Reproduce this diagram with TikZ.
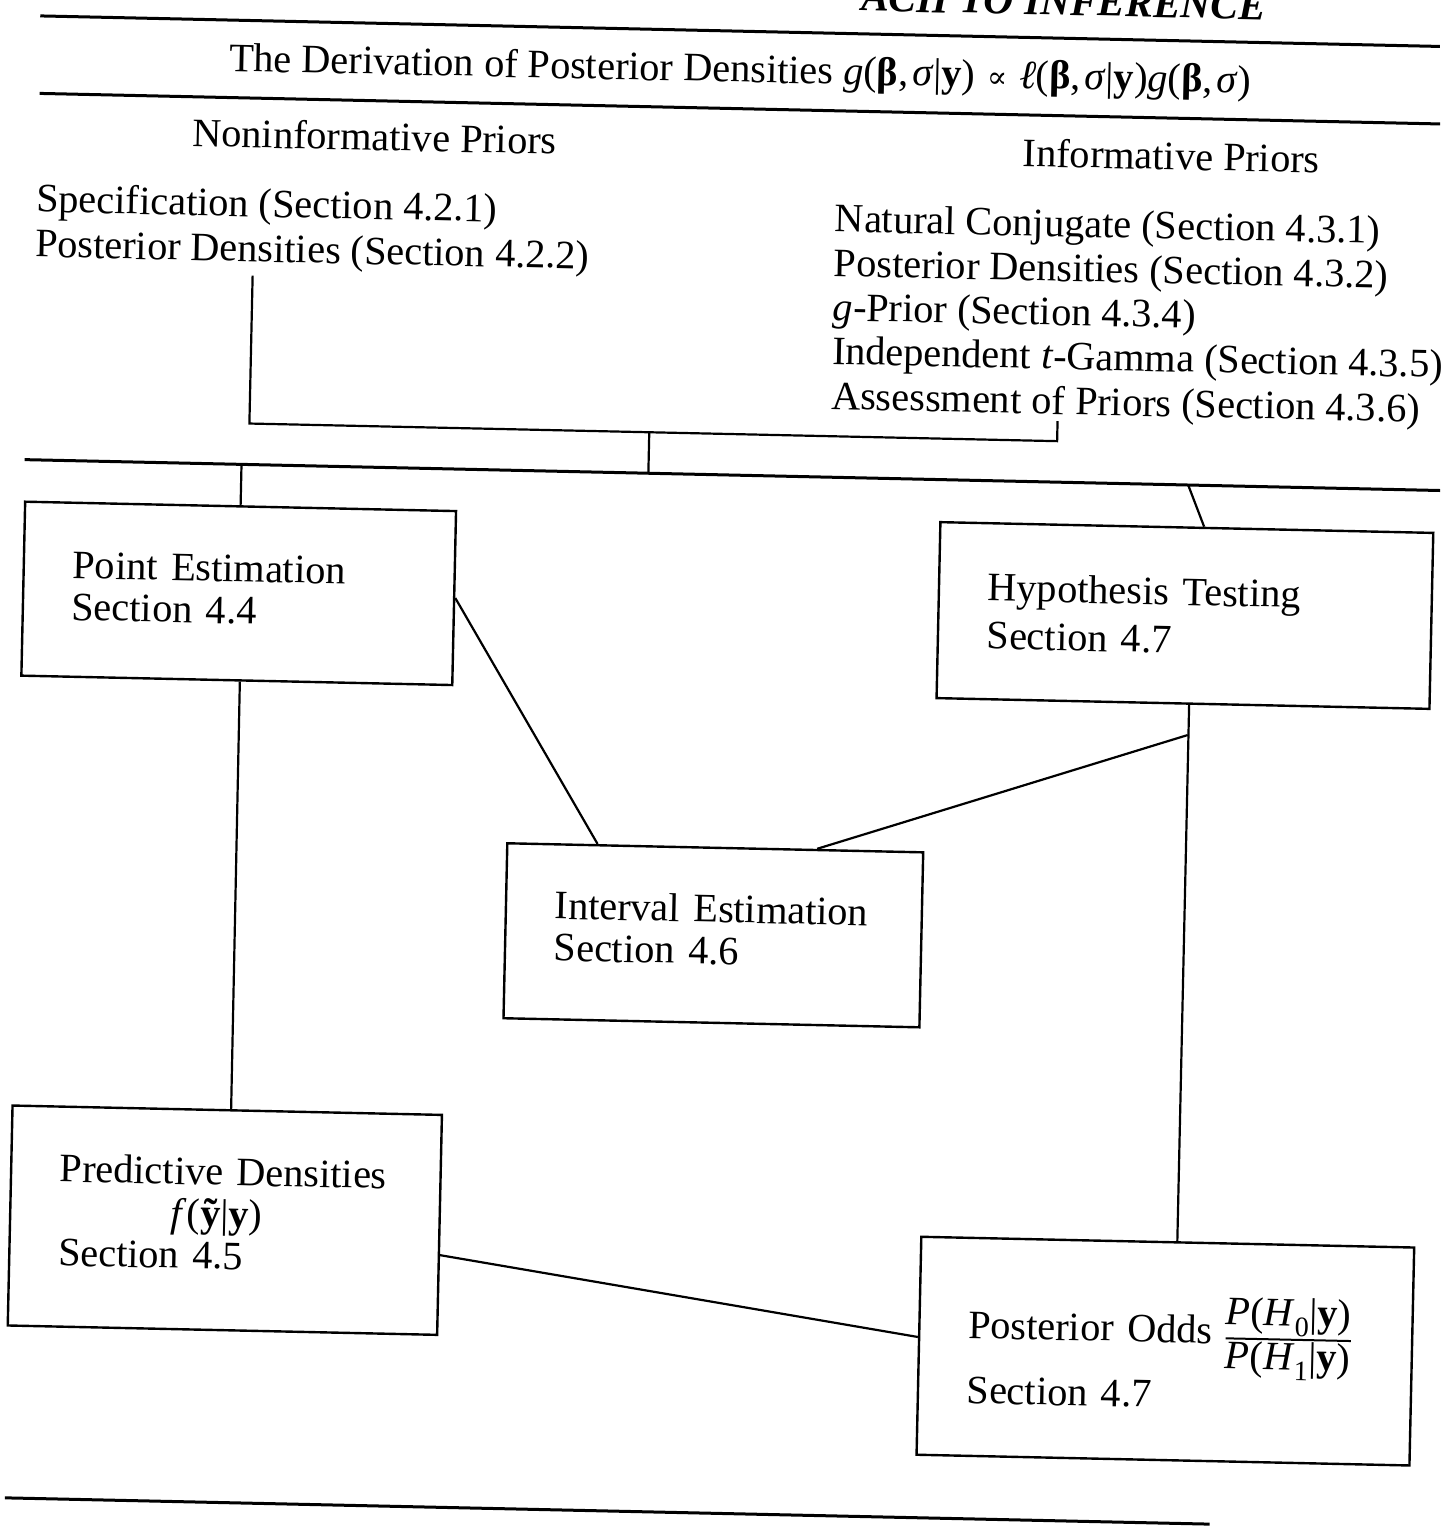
\documentclass[tikz,border=0pt]{standalone}
\usepackage{fontspec}
\setmainfont{Liberation Serif}
\newfontfamily\symserif{DejaVu Serif}
% a stacked fraction built from text, bar at mid-height of the line
\newcommand{\textfrac}[2]{%
  \raisebox{-25pt}{\setlength{\arrayrulewidth}{2pt}%
  \begin{tabular}[b]{@{}c@{}}#1\\\hline #2\end{tabular}}}
% comma with a little extra room, as in set formulas
\newcommand{\fcomma}{,\hspace{4pt}}
\begin{document}
\begin{tikzpicture}[x=1pt,y=-1pt,
  every node/.style={font=\fontsize{40.3}{42}\selectfont, inner sep=0pt},
  rule/.style={line width=3pt},
  link/.style={line width=2.2pt},
  card/.style={draw, line width=2.4pt, rectangle, align=left,
               inner xsep=49pt, inner ysep=0pt},
]
\useasboundingbox (0,0) rectangle (1450,1537);
\begin{scope}[rotate around={-1.25:(725,768)}, transform shape]

% running head, cut by the top edge of the page
\node[anchor=base east, font=\fontsize{41.5}{42}\selectfont\bfseries\itshape]
  (head) at (1250,8) {ACH TO INFERENCE};

% horizontal rules
\coordinate (r1a) at (24,31);   \coordinate (r1b) at (1424,31);
\coordinate (r3a) at (25,108.5); \coordinate (r3b) at (1426,108.5);
\coordinate (r4a) at (18,475);  \coordinate (r4b) at (1434,475);
\coordinate (r5a) at (21,1513.5); \coordinate (r5b) at (1226,1513.5);
\draw[rule] (r1a) -- (r1b);
\draw[rule] (r3a) -- (r3b);
\draw[rule] (r4a) -- (r4b);
\draw[rule] (r5a) -- (r5b);

% title
\node[anchor=base] (title) at (725,82)
  {The Derivation of Posterior Densities
   \textit{g}(\textbf{β}\fcomma\textit{σ}|\textbf{y})\hspace{12pt}%
   {\symserif\fontsize{30}{42}\selectfont ∝}\hspace{12pt}%
   \textit{ℓ}(\textbf{β}\fcomma\textit{σ}|\textbf{y})\textit{g}(\textbf{β}\fcomma\textit{σ})};

% column headings
\node[anchor=base] (noninf) at (361,158) {Noninformative Priors};
\node[anchor=base] (inf) at (1158,160) {Informative Priors};

% noninformative priors
\node[anchor=base west] (spec) at (24,227) {Specification (Section 4.2.1)};
\node[anchor=base west] (postA) at (24,272) {Posterior Densities (Section 4.2.2)};

% informative priors
\node[anchor=base west] (natc) at (823,229.5) {Natural Conjugate (Section 4.3.1)};
\node[anchor=base west] (postB) at (823,274) {Posterior Densities (Section 4.3.2)};
\node[anchor=base west] (gpri) at (823,318) {\textit{g}-Prior (Section 4.3.4)};
\node[anchor=base west] (indep) at (823,362) {Independent \textit{t}-Gamma (Section 4.3.5)};
\node[anchor=base west] (assess) at (823,407) {Assessment of Priors (Section 4.3.6)};

% bracket joining both kinds of prior
\coordinate (bLt) at (242,286);
\coordinate (bLb) at (242,434);
\coordinate (bRb) at (1050,434);
\coordinate (bRt) at (1050,414);
\coordinate (bC)  at (642,434);
\coordinate (bCd) at (642,475);
\draw[link] (bLt) -- (bLb) -- (bRb) -- (bRt);
\draw[link] (bC) -- (bCd);

% boxes (text depth lifts the lines a little above centre)
\node[card, text width=333pt, minimum height=174pt, text depth=50pt] (point) at (235,604)
  {Point Estimation\\Section 4.4};
\node[card, text width=395pt, minimum height=176pt] (hyp) at (1181.5,605.5)
  {Hypothesis Testing\\[6pt]Section 4.7};
\node[card, text width=318pt, minimum height=175pt, text depth=54pt] (intv) at (717,935.5)
  {Interval Estimation\\Section 4.6};
\node[card, text width=331.5pt, minimum height=220pt, text depth=98pt] (pred) at (234.8,1231)
  {Predictive Densities\\
   \hspace*{112pt}\textit{f}(\textbf{ỹ}|\textbf{y})\\
   Section 4.5};
\node[card, text width=395pt, minimum height=218pt] (odds) at (1178,1341.4)
  {Posterior Odds
   \textfrac{\textit{P}(\textit{H}\textsubscript{0}|\textbf{y})}
            {\textit{P}(\textit{H}\textsubscript{1}|\textbf{y})}\\
   Section 4.7};

% connectors
\coordinate (jP) at (235,475);
\coordinate (jH) at (1182,475);
\draw[link] (jP) -- (point.north);
\draw[link] (jH) -- (hyp.79.4);
\draw[link] (point.-88) -- (pred.88);
\draw[link] (point.east) -- (intv.143.2);
\draw[link] (hyp.-86.4) -- (odds.85.3);
\coordinate (jB) at (1187,725);
\draw[link] (jB) -- (intv.41.2);
\draw[link] (pred.-8.5) -- (odds.178.7);

\end{scope}
\end{tikzpicture}
\end{document}
